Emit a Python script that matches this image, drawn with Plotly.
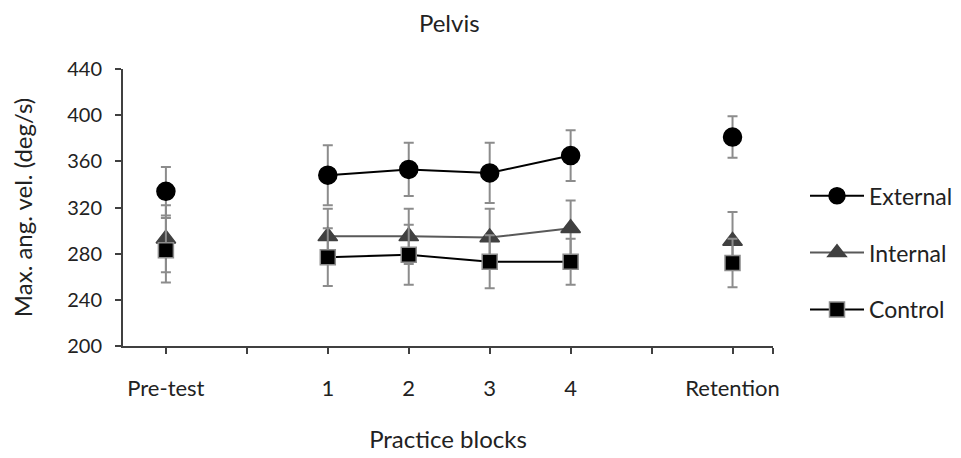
import plotly.graph_objects as go

x_pos = [0, 1, 2, 3, 4, 5, 6, 7]
tick_labels = ["Pre-test", "", "1", "2", "3", "4", "", "Retention"]

external = [334, None, 348, 353, 350, 365, None, 381]
external_err = [21, None, 26, 23, 26, 22, None, 18]
internal = [293, None, 295, 295, 294, 302, None, 291]
internal_err = [29, None, 24, 24, 25, 24, None, 25]
control = [283, None, 277, 279, 273, 273, None, 272]
control_err = [28, None, 25, 26, 23, 20, None, 21]

FONT = "Lato"
ERR = dict(type="data", visible=True, color="#8c8c8c", thickness=2, width=5)

fig = go.Figure()

series = [
    ("External", external, external_err, "circle", 18, "black", "black", "black"),
    ("Internal", internal, internal_err, "triangle-up", 17, "#404040", "#595959", "#404040"),
    ("Control", control, control_err, "square", 15, "black", "black", "#8c8c8c"),
]

for i, (name, vals, errs, sym, size, mcol, lcol, bcol) in enumerate(series):
    fig.add_trace(go.Scatter(
        x=x_pos, y=vals, name=name, mode="lines+markers",
        connectgaps=False,
        line=dict(color=lcol, width=2),
        marker=dict(symbol=sym, size=size, color=mcol, line=dict(color=bcol, width=1.5)),
        error_y=dict(array=errs, **ERR),
        legendgroup=name,
    ))

fig.update_layout(
    width=953, height=450,
    paper_bgcolor="white", plot_bgcolor="white",
    margin=dict(l=115, r=188, t=61, b=112, autoexpand=False),
    font=dict(family=FONT, size=22, color="#222"),
    title=dict(text="Pelvis", x=0.463, xanchor="center",
               yref="container", y=1 - 16 / 450, yanchor="middle",
               font=dict(family=FONT, size=24, color="#222")),
    showlegend=True,
    legend=dict(xref="container", x=797 / 953, xanchor="left", y=0.62, yanchor="top",
                font=dict(family=FONT, size=23, color="#222"),
                itemwidth=54,
                tracegroupgap=24, bgcolor="rgba(0,0,0,0)"),
)

fig.update_xaxes(
    range=[-0.53, 7.5],
    tickvals=x_pos + [7.5], ticktext=tick_labels + [""],
    ticks="outside", ticklen=6, tickwidth=1.5, tickcolor="#404040",
    ticklabelstandoff=16,
    showline=True, linecolor="#404040", linewidth=2,
    showgrid=False, zeroline=False, automargin=False,
    title=dict(text="Practice blocks", standoff=31, font=dict(family=FONT, size=24)),
    tickfont=dict(family=FONT, size=22),
)
fig.update_yaxes(
    range=[200, 440], dtick=40, tick0=200,
    ticks="outside", ticklen=6, tickwidth=1.5, tickcolor="#404040",
    ticklabelstandoff=9,
    showline=True, linecolor="#404040", linewidth=2,
    showgrid=False, zeroline=False, automargin=False,
    title=dict(text="Max. ang. vel. (deg/s)", standoff=30, font=dict(family=FONT, size=24)),
    tickfont=dict(family=FONT, size=20),
)

fig.write_html("out.html")
